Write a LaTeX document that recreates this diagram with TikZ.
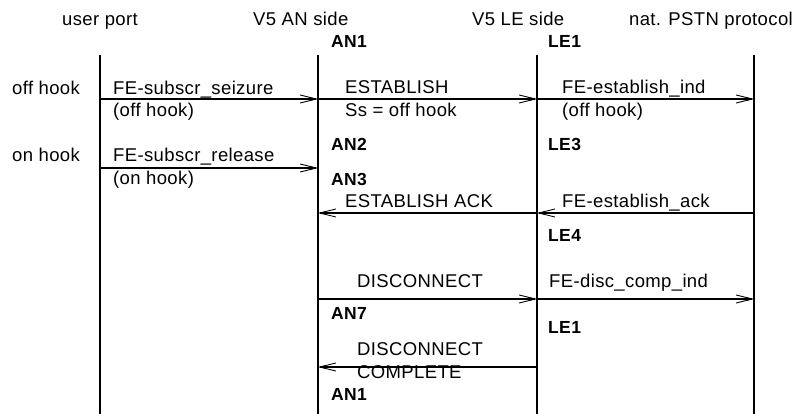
\documentclass[tikz,border=0pt]{standalone}
\usepackage{fontspec}
\setmainfont{Liberation Sans}[LetterSpace=2]
\usetikzlibrary{arrows.meta}

\tikzset{
  lifeline/.style={line width=1.4pt},
  msg/.style={line width=1.1pt,
    -{Straight Barb[length=16pt,width=8pt,line width=0.9pt]},
    postaction={draw,-{Latex[length=8pt,width=4pt]}}},
  lbl/.style={anchor=base west,inner sep=0pt,font=\fontsize{18.5}{22}\selectfont},
  st/.style={anchor=base west,inner sep=0pt,font=\fontsize{17.5}{21}\selectfont\bfseries}
}

\begin{document}
\begin{tikzpicture}[x=1pt,y=-1pt]
\useasboundingbox (0,0) rectangle (802,414);

% lifelines
\coordinate (up-t) at (100,55);  \coordinate (up-b) at (100,414);
\coordinate (an-t) at (318,55);  \coordinate (an-b) at (318,414);
\coordinate (le-t) at (537,55);  \coordinate (le-b) at (537,414);
\coordinate (ps-t) at (754,55);  \coordinate (ps-b) at (754,414);
\draw[lifeline] (up-t) -- (up-b);
\draw[lifeline] (an-t) -- (an-b);
\draw[lifeline] (le-t) -- (le-b);
\draw[lifeline] (ps-t) -- (ps-b);

% column headings
\node[lbl] (h-up) at (62,26) {user port};
\node[lbl] (h-an) at (253,26) {V5 AN side};
\node[lbl] (h-le) at (472,26) {V5 LE side};
\node[lbl,anchor=base east] (h-ps) at (793,26) {nat. PSTN protocol};

% states
\node[st] (s-an1) at (331,48) {AN1};
\node[st] (s-le1) at (548,48) {LE1};
\node[st] (s-an2) at (331,151) {AN2};
\node[st] (s-le3) at (548,151) {LE3};
\node[st] (s-an3) at (331,185) {AN3};
\node[st] (s-le4) at (548,241) {LE4};
\node[st] (s-an7) at (331,319) {AN7};
\node[st] (s-le1b) at (548,333) {LE1};
\node[st] (s-an1b) at (331,400) {AN1};

% user events
\node[lbl] (e-off) at (12,95) {off hook};
\node[lbl] (e-on) at (12,162) {on hook};

% message end points on the lifelines
\coordinate (up1) at (100,99);  \coordinate (an1) at (318,99);
\coordinate (le1) at (537,99);  \coordinate (ps1) at (754,99);
\coordinate (up2) at (100,168); \coordinate (an2) at (318,168);
\coordinate (an3) at (318,213); \coordinate (le3) at (537,213);
\coordinate (ps3) at (754,213);
\coordinate (an4) at (318,299); \coordinate (le4) at (537,299);
\coordinate (ps4) at (754,299);
\coordinate (an5) at (318,367); \coordinate (le5) at (537,367);

% messages
\draw[msg] (up1) -- (an1);
\draw[msg] (an1) -- (le1);
\draw[msg] (le1) -- (ps1);
\draw[msg] (up2) -- (an2);
\draw[msg] (le3) -- (an3);
\draw[msg] (ps3) -- (le3);
\draw[msg] (an4) -- (le4);
\draw[msg] (le4) -- (ps4);
\draw[msg] (le5) -- (an5);

% message labels
\node[lbl] (m1a) at (113,95) {FE-subscr\_seizure};
\node[lbl] (m1b) at (113,117) {(off hook)};
\node[lbl] (m2a) at (345,94) {ESTABLISH};
\node[lbl] (m2b) at (345,117) {Ss = off hook};
\node[lbl] (m3a) at (562,94) {FE-establish\_ind};
\node[lbl] (m3b) at (562,117) {(off hook)};
\node[lbl] (m4a) at (113,162) {FE-subscr\_release};
\node[lbl] (m4b) at (113,184) {(on hook)};
\node[lbl] (m5) at (345,207) {ESTABLISH ACK};
\node[lbl] (m6) at (562,207) {FE-establish\_ack};
\node[lbl] (m7) at (357,287) {DISCONNECT};
\node[lbl] (m8) at (549,287) {FE-disc\_comp\_ind};
\node[lbl] (m9a) at (357,355) {DISCONNECT};
\node[lbl] (m9b) at (357,378) {COMPLETE};
\end{tikzpicture}
\end{document}
